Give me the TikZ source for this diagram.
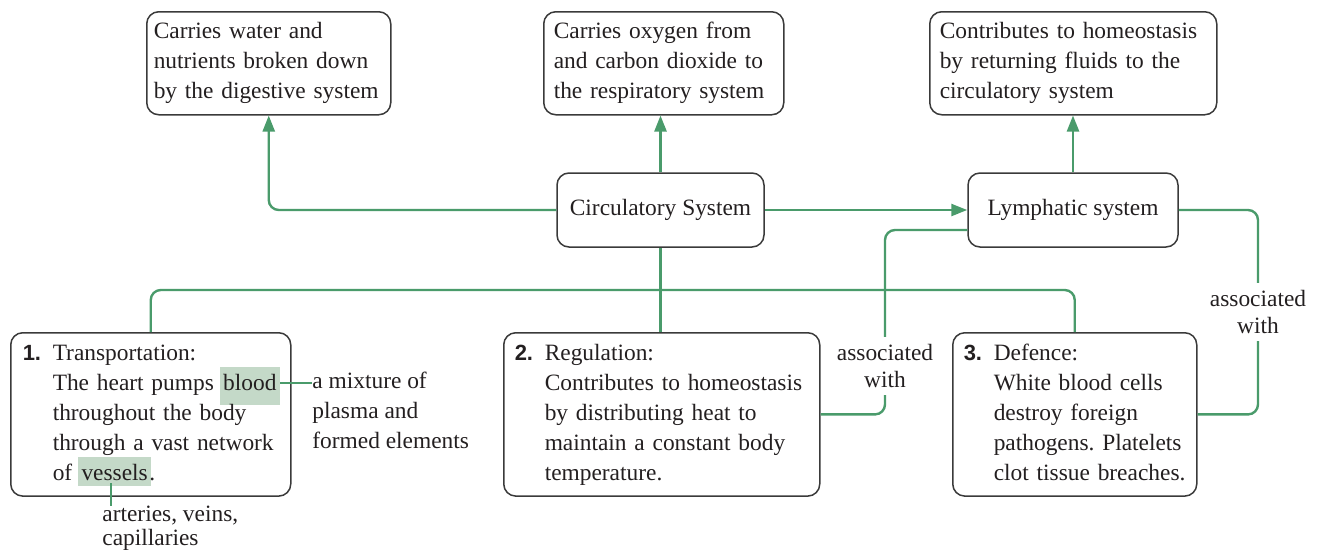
\documentclass[tikz,border=0pt]{standalone}
\usepackage{fontspec}
\setmainfont{Liberation Serif}
\newfontfamily\numfont{Liberation Sans}
\usetikzlibrary{arrows.meta}
\definecolor{ink}{HTML}{231F20}
\definecolor{frame}{HTML}{3A3A3A}
\definecolor{leaf}{HTML}{4A9B6B}
\definecolor{hilite}{HTML}{C4D9C8}
\frenchspacing
\tikzset{box/.style={draw=frame,line width=.75pt,rounded corners=6pt,text=ink,font=\fontsize{11.7}{15}\selectfont},
topbox/.style={box,anchor=north west,align=left,minimum height=51.5pt,inner xsep=5pt},
sysbox/.style={box,minimum height=37pt},
rolebox/.style={box,anchor=north west,align=left,minimum height=80.5pt},
link/.style={leaf,line width=1.2pt,rounded corners=5pt},
arr/.style={link,-{Triangle[length=8pt,width=6pt]}},
lab/.style={text=ink,font=\fontsize{11.7}{13.5}\selectfont,align=center}}
\newcommand{\shade}[2][5.5pt]{\hspace{-1pt}\smash{\fboxsep=1.75pt\colorbox{hilite}{\rule[-#1]{0pt}{\dimexpr10pt+#1\relax}#2}}\hspace{-1pt}}
\newcommand{\rolerows}[1]{\begin{tabular}{@{}p{15pt}@{}l@{}}#1\end{tabular}}
\newcommand{\num}[1]{{\numfont\bfseries\fontsize{11}{15}\selectfont #1}}

\begin{document}
\begin{tikzpicture}[x=.5pt,y=-.5pt]
\useasboundingbox (0,0) rectangle (1321,552);
% top row
\node[topbox,text width=115pt,inner xsep=3.5pt] (water) at (146,11) {Carries water and\\nutrients broken down\\by the digestive system};
\node[topbox,text width=110pt] (oxygen) at (543,11) {Carries oxygen from\\and carbon dioxide to\\the respiratory system};
\node[topbox,text width=133.5pt] (fluids) at (929,11) {Contributes to homeostasis\\by returning fluids to the\\circulatory system};
% the two systems
\node[sysbox,minimum width=103.5pt] (circ) at (660.5,210) {Circulatory System};
\node[sysbox,minimum width=105pt] (lymph) at (1073,210) {Lymphatic system};
% functions
\node[rolebox,text width=128pt,inner xsep=6pt] (transport) at (10,332) {\rolerows{\num{1.}&Transportation:\\&The heart pumps \shade{blood}\\&throughout the body\\&through a vast network\\&of \shade[1.25pt]{vessels}.}};
\node[rolebox,text width=147pt,inner xsep=5.5pt] (regul) at (503,332) {\rolerows{\num{2.}&Regulation:\\&Contributes to homeostasis\\&by distributing heat to\\&maintain a constant body\\&temperature.}};
\node[rolebox,text width=111pt,inner xsep=5.5pt] (defence) at (952,332) {\rolerows{\num{3.}&Defence:\\&White blood cells\\&destroy foreign\\&pathogens. Platelets\\&clot tissue breaches.}};
% notes
\coordinate (bloodtip) at (280,383);
\node[lab,align=left,anchor=west,inner sep=0pt,font=\fontsize{11.7}{15}\selectfont] (mixture) at (312,410) {a mixture of\\plasma and\\formed elements};
\coordinate (vesselfoot) at (111,483);
\node[lab,align=left,anchor=north west,inner sep=0pt,font=\fontsize{11.7}{12}\selectfont] (vesselkinds) at (102,506) {arteries, veins,\\capillaries};
\node[lab,inner xsep=2pt,inner ysep=3.5pt] (assocmid) at (885,366) {associated\\with};
\node[lab,inner xsep=2pt,inner ysep=3.5pt] (assocright) at (1258,312) {associated\\with};
\coordinate (bus) at (660.5,290);
% connectors
\draw[arr] (circ.west) -| (water.south);
\draw[arr] (circ.north) -- (circ.north |- oxygen.south);
\draw[arr] (circ.east) -- (lymph.west);
\draw[arr] (lymph.north) -- (lymph.north |- fluids.south);
\draw[link] (circ.south) -- (circ.south |- regul.north);
\draw[link] (transport.north) |- (bus) -| (defence.north);
\draw[link] ([yshift=-10pt]lymph.west) -| (assocmid.north);
\draw[link] (assocmid.south) |- (regul.east);
\draw[link] (lymph.east) -| (assocright.north);
\draw[link] (assocright.south) |- (defence.east);
\draw[link] (bloodtip) -- (bloodtip -| mixture.west);
\draw[link] (vesselfoot) -- (vesselfoot |- vesselkinds.north);
\end{tikzpicture}
\end{document}
